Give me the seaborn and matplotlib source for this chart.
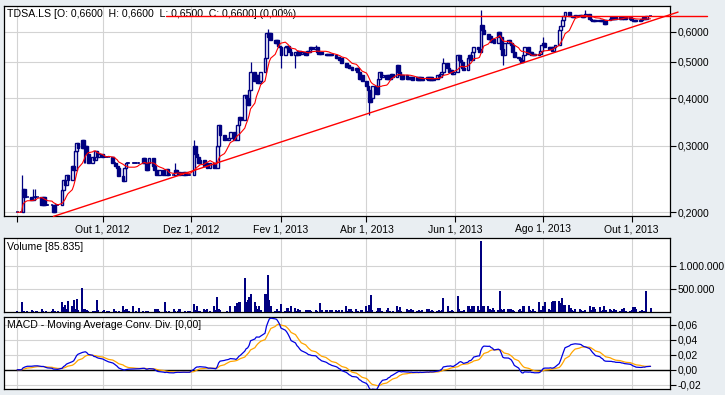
import numpy as np
import pandas as pd
import matplotlib
matplotlib.use("Agg")
import matplotlib.pyplot as plt
import matplotlib.dates as mdates
from matplotlib.ticker import FixedLocator, NullLocator
import seaborn as sns

sns.set_theme(style="white")
plt.rcParams['font.family'] = ['Liberation Sans', 'DejaVu Sans']

# ---------------- data ----------------
start_date = "2012-08-03"
close = [
    # Aug 2012
    0.200, 0.200, 0.230, 0.219, 0.219, 0.219, 0.215, 0.219, 0.219, 0.219,
    0.219, 0.209, 0.219, 0.209, 0.209, 0.209, 0.209, 0.200, 0.209, 0.209, 0.209,
    # Sep 2012
    0.229, 0.243, 0.236, 0.251, 0.243, 0.265, 0.258, 0.290, 0.305, 0.295,
    0.310, 0.295, 0.300, 0.285, 0.270, 0.280, 0.275, 0.290, 0.280, 0.285,
    # Oct 2012
    0.280, 0.280, 0.280, 0.280, 0.280, 0.270, 0.270, 0.265, 0.262, 0.250,
    0.242, 0.262, 0.270, 0.270, 0.270, 0.270, 0.270, 0.270, 0.270, 0.270,
    0.278, 0.270, 0.258,
    # Nov 2012
    0.270, 0.278, 0.265, 0.258, 0.251, 0.251, 0.258, 0.251, 0.251, 0.260,
    0.251, 0.251, 0.251, 0.258, 0.255, 0.255, 0.251, 0.255, 0.251, 0.251,
    0.251, 0.251,
    # Dec 2012
    0.300, 0.285, 0.280, 0.270, 0.275, 0.265, 0.270, 0.262, 0.262, 0.270,
    0.262, 0.262, 0.300, 0.340, 0.320, 0.310, 0.310, 0.310, 0.315, 0.325, 0.310,
    # Jan 2013
    0.310, 0.340, 0.356, 0.350, 0.409, 0.400, 0.385, 0.420, 0.470, 0.445,
    0.460, 0.440, 0.445, 0.470, 0.510, 0.595, 0.580, 0.595, 0.570, 0.560,
    0.570, 0.550, 0.545,
    # Feb 2013
    0.520, 0.545, 0.550, 0.540, 0.530, 0.520, 0.530, 0.520, 0.535, 0.525,
    0.530, 0.520, 0.535, 0.530, 0.545, 0.540, 0.545, 0.530, 0.525, 0.530,
    # Mar 2013
    0.525, 0.520, 0.525, 0.520, 0.525, 0.520, 0.510, 0.515, 0.505, 0.510,
    0.495, 0.485, 0.490, 0.480, 0.485, 0.475, 0.480, 0.470, 0.450, 0.460, 0.445,
    # Apr 2013
    0.430, 0.420, 0.390, 0.400, 0.430, 0.410, 0.450, 0.470, 0.455, 0.460,
    0.450, 0.460, 0.450, 0.465, 0.455, 0.490, 0.470, 0.460, 0.450, 0.460,
    0.450, 0.455,
    # May 2013
    0.450, 0.455, 0.447, 0.455, 0.447, 0.455, 0.447, 0.450, 0.455, 0.447,
    0.455, 0.447, 0.450, 0.460, 0.455, 0.465, 0.470, 0.495, 0.480, 0.470,
    0.475, 0.465, 0.470,
    # Jun 2013
    0.520, 0.505, 0.500, 0.480, 0.475, 0.510, 0.520, 0.505, 0.530, 0.545,
    0.540, 0.530, 0.625, 0.605, 0.590, 0.575, 0.585, 0.565, 0.575, 0.560,
    # Jul 2013
    0.600, 0.580, 0.540, 0.520, 0.560, 0.570, 0.560, 0.555, 0.530, 0.515,
    0.510, 0.505, 0.500, 0.520, 0.545, 0.525, 0.530, 0.520, 0.525, 0.520,
    0.525, 0.535, 0.555,
    # Aug 2013
    0.560, 0.545, 0.540, 0.545, 0.535, 0.545, 0.555, 0.605, 0.620, 0.645,
    0.660, 0.675, 0.660, 0.660, 0.655, 0.660, 0.665, 0.660, 0.665, 0.655,
    0.660, 0.670,
    # Sep 2013
    0.650, 0.645, 0.640, 0.645, 0.640, 0.645, 0.640, 0.645, 0.630, 0.645,
    0.650, 0.655, 0.650, 0.655, 0.650, 0.655, 0.650, 0.655, 0.650, 0.655, 0.650,
    # Oct 2013
    0.645, 0.640, 0.645, 0.640, 0.645, 0.650, 0.655, 0.650, 0.660, 0.660,
]

volume_k = [
    10, 217, 15, 5, 0, 8, 36, 10, 0, 5, 10, 58, 12, 0, 5, 0, 8, 58, 10, 0, 5,
    196, 90, 145, 60, 230, 110, 250, 60, 270, 40, 520, 60, 60, 30, 20, 15, 20, 10, 250, 30,
    20, 25, 0, 10, 20, 0, 58, 10, 0, 15, 130, 40, 58, 58, 15, 110, 0, 10, 0, 87, 10, 0, 5,
    10, 0, 0, 58, 50, 58, 20, 0, 203, 10, 0, 15, 58, 20, 0, 10, 58, 0, 10, 0, 5, 15,
    167, 40, 130, 20, 10, 58, 30, 58, 0, 20, 110, 40, 319, 60, 30, 0, 0, 10, 0, 110, 110,
    0, 180, 217, 217, 739, 217, 260, 319, 384, 217, 110, 60, 130, 40, 391, 391, 797, 246, 130, 20, 58, 20, 10,
    167, 20, 87, 87, 10, 110, 70, 10, 58, 30, 0, 40, 40, 40, 40, 10, 40, 10, 0, 188,
    30, 40, 40, 0, 40, 40, 40, 10, 40, 0, 40, 120, 10, 58, 58, 10, 58, 20, 0, 40, 40,
    110, 20, 145, 362, 40, 20, 70, 70, 20, 10, 40, 87, 10, 0, 20, 130, 40, 100, 20, 0, 58, 30,
    0, 58, 30, 20, 40, 10, 30, 0, 58, 58, 20, 40, 10, 20, 40, 20, 30, 304, 130, 20, 10, 30, 20,
    340, 58, 20, 10, 40, 110, 110, 60, 110, 110, 130, 40, 1540, 120, 120, 110, 60, 40, 70, 30,
    40, 449, 58, 40, 58, 58, 20, 58, 30, 10, 40, 58, 20, 110, 110, 110, 30, 10, 58, 20, 217, 30, 40,
    130, 196, 60, 40, 203, 230, 230, 230, 180, 290, 145, 145, 145, 80, 40, 20, 58, 58, 30, 10, 20, 40,
    130, 40, 95, 95, 60, 95, 20, 40, 120, 30, 58, 40, 20, 58, 30, 10, 58, 20, 87, 20, 10,
    40, 100, 90, 60, 20, 30, 20, 20, 450, 85.835,
]

high_wick_dates = ["2012-08-06", "2012-08-14", "2012-08-15", "2012-11-20", "2012-12-03",
                   "2013-01-11", "2013-01-23", "2013-02-25", "2013-05-24", "2013-06-19",
                   "2013-08-01", "2013-08-30"]
high_wick_vals = [0.251, 0.230, 0.230, 0.270, 0.310, 0.500, 0.610, 0.555, 0.510, 0.684,
                  0.580, 0.685]
low_wick_dates = ["2012-09-18", "2012-09-19", "2013-02-01", "2013-02-11", "2013-04-03",
                  "2013-07-04"]
low_wick_vals = [0.270, 0.270, 0.480, 0.480, 0.361, 0.490]

trend_dates = ["2012-08-28", "2013-11-02"]
trend_vals = [0.195, 0.676]
resist_dates = ["2012-11-14", "2013-11-22"]
resist_vals = [0.66, 0.66]

price_ticks = [0.2, 0.3, 0.4, 0.5, 0.6]
price_tick_labels = ["0,2000", "0,3000", "0,4000", "0,5000", "0,6000"]
vol_ticks = [500000, 1000000]
vol_tick_labels = ["500.000", "1.000.000"]
macd_ticks = [-0.02, 0.0, 0.02, 0.04, 0.06]
macd_tick_labels = ["-0,02", "0,00", "0,02", "0,04", "0,06"]
date_ticks = ["2012-08-03", "2012-10-01", "2012-12-01", "2013-02-01", "2013-04-01",
              "2013-06-01", "2013-08-01", "2013-10-01"]
date_tick_labels = ["", "Out 1, 2012", "Dez 1, 2012", "Fev 1, 2013", "Abr 1, 2013",
                    "Jun 1, 2013", "Ago 1, 2013", "Out 1, 2013"]

title_price = "TDSA.LS [O: 0,6600  H: 0,6600  L: 0,6500  C: 0,6600] (0,00%)"
title_vol = "Volume [85.835]"
title_macd = "MACD - Moving Average Conv. Div. [0,00]"

# ---------------- derived ----------------
dates = pd.bdate_range(start_date, periods=len(close))
c = pd.Series(close, index=dates)
o = c.shift(1).fillna(c.iloc[0])
hi = np.maximum(o, c)
lo = np.minimum(o, c)
for d, v in zip(high_wick_dates, high_wick_vals):
    hi[pd.Timestamp(d)] = max(hi[pd.Timestamp(d)], v)
for d, v in zip(low_wick_dates, low_wick_vals):
    lo[pd.Timestamp(d)] = min(lo[pd.Timestamp(d)], v)
vol = pd.Series(volume_k, index=dates[:len(volume_k)]) * 1000

ma = c.rolling(10, min_periods=1).mean()
ema12 = c.ewm(span=12, adjust=False).mean()
ema26 = c.ewm(span=26, adjust=False).mean()
macd = ema12 - ema26
signal = macd.ewm(span=9, adjust=False).mean()

# ---------------- figure ----------------
BG = "#E9EEF2"
NAVY = "#000080"
GRID = "#D3D3D3"
W, H = 725, 395
fig = plt.figure(figsize=(W / 100, H / 100), dpi=100, facecolor=BG)


def add_ax(l, t, r, b):
    return fig.add_axes([l / W, 1 - b / H, (r - l) / W, (b - t) / H])


ax_p = add_ax(4.3, 6, 669.5, 216)
ax_v = add_ax(4.3, 238, 669.5, 311.5)
ax_m = add_ax(4.3, 316.7, 669.5, 389)

base = mdates.date2num(pd.Timestamp("2012-10-01"))
ppd = 1.4493
xmin = base + (4.3 - 102.7) / ppd
xmax = base + (669.5 - 102.7) / ppd
dticks = mdates.date2num(pd.to_datetime(date_ticks))

for ax in (ax_p, ax_v, ax_m):
    ax.set_facecolor("white")
    for s in ax.spines.values():
        s.set_color("black")
        s.set_linewidth(0.9)
    ax.set_xlim(xmin, xmax)
    ax.set_xticks(dticks)
    ax.grid(True, color=GRID, linewidth=0.8, zorder=0)
    ax.set_axisbelow(True)
    ax.yaxis.tick_right()
    ax.tick_params(axis="y", which="major", direction="out", length=4, width=0.8,
                   labelsize=7.5, pad=2, colors="black", right=True, left=False)
    ax.set_xlabel("")
    ax.set_ylabel("")

# ---- price panel ----
w = 1.9
dn = mdates.date2num(dates)
up = (c > o).values
down = (c < o).values
flat = (c == o).values
ax_p.vlines(dn, lo.values, hi.values, color=NAVY, linewidth=0.9, zorder=2)
ax_p.bar(dn[up], (c - o).values[up], bottom=o.values[up], width=w, facecolor="white",
         edgecolor=NAVY, linewidth=1.0, zorder=3)
ax_p.bar(dn[down], (o - c).values[down], bottom=c.values[down], width=w, facecolor=NAVY,
         edgecolor=NAVY, linewidth=1.0, zorder=3)
ax_p.hlines(c.values[flat], dn[flat] - w / 2, dn[flat] + w / 2, color=NAVY, linewidth=1.1,
            zorder=3)
sns.lineplot(x=dn, y=ma.values, ax=ax_p, color="#FF0000", linewidth=0.8, zorder=4)
ax_p.plot(mdates.date2num(pd.to_datetime(trend_dates)), trend_vals, color="#FF0000",
          linewidth=1.0, zorder=5, clip_on=False)
ax_p.plot(mdates.date2num(pd.to_datetime(resist_dates)), resist_vals, color="#FF0000",
          linewidth=1.0, zorder=5, clip_on=False)
ax_p.set_yscale("log")
ax_p.set_ylim(0.1955, 0.7015)
ax_p.yaxis.set_major_locator(FixedLocator(price_ticks))
ax_p.yaxis.set_minor_locator(NullLocator())
ax_p.set_yticklabels(price_tick_labels)
ax_p.set_xticklabels(date_tick_labels)
ax_p.tick_params(axis="x", direction="out", length=4, width=0.8, labelsize=7.5, pad=2,
                 colors="black", bottom=True)
ax_p.set_xlim(xmin, xmax)
ax_p.set_xlabel("")
ax_p.set_ylabel("")
ax_p.text(3 / 665.2, (216 - 14) / 210, title_price, transform=ax_p.transAxes,
          fontsize=7.6, color="black", va="center", ha="left", zorder=1)

# ---- volume panel ----
ax_v.bar(dn[:len(vol)], vol.values, width=1.4, color=NAVY, linewidth=0, zorder=3)
ax_v.set_ylim(0, 1.6e6)
ax_v.yaxis.set_major_locator(FixedLocator(vol_ticks))
ax_v.set_yticklabels(vol_tick_labels)
ax_v.set_xticklabels([])
ax_v.tick_params(axis="x", length=0)
ax_v.text(3 / 665.2, (311.5 - 246.5) / 73.5, title_vol, transform=ax_v.transAxes,
          fontsize=7.6, color="black", va="center", ha="left")

# ---- MACD panel ----
ax_m.axhline(0, color="black", linewidth=1.0, zorder=2)
sns.lineplot(x=dn, y=signal.values, ax=ax_m, color="#FFA500", linewidth=0.9, zorder=3)
sns.lineplot(x=dn, y=macd.values, ax=ax_m, color="#0000E0", linewidth=0.9, zorder=4)
ax_m.set_ylim(-0.0257, 0.0707)
ax_m.yaxis.set_major_locator(FixedLocator(macd_ticks))
ax_m.set_yticklabels(macd_tick_labels)
ax_m.set_xticks(dticks)
ax_m.set_xticklabels([])
ax_m.tick_params(axis="x", length=0)
ax_m.set_xlim(xmin, xmax)
ax_m.set_xlabel("")
ax_m.set_ylabel("")
ax_m.text(3 / 665.2, (389 - 325) / 72.3, title_macd, transform=ax_m.transAxes,
          fontsize=7.6, color="black", va="center", ha="left")

fig.savefig("out.png", dpi=100, facecolor=BG)
